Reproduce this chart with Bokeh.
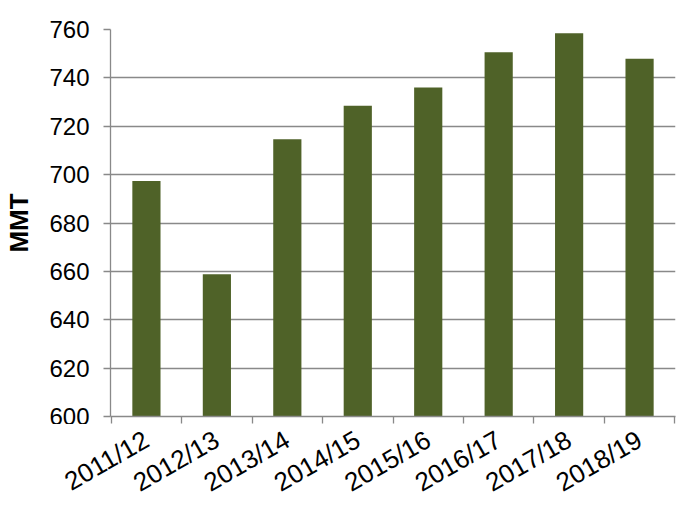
import math
from bokeh.plotting import figure
from bokeh.layouts import column
from bokeh.models import Range1d, FixedTicker
from bokeh.embed import file_html
from bokeh.resources import INLINE

categories = ["2011/12", "2012/13", "2013/14", "2014/15", "2015/16", "2016/17", "2017/18", "2018/19"]
values = [697.4, 658.8, 714.6, 728.5, 736.0, 750.6, 758.5, 747.9]
y_ticks = [600, 620, 640, 660, 680, 700, 720, 740, 760]

GRAY = "#898989"
BAR = "#4F6228"
FONT = "Liberation Sans"

W = 690
LEFT = 110
RIGHT = 15
n = len(categories)
centers = [i + 0.5 for i in range(n)]
bounds = [float(i) for i in range(n + 1)]

xr = Range1d(-0.01, n + 0.01)
p = figure(width=W, height=424, output_backend="svg", toolbar_location=None,
           x_range=xr, y_range=Range1d(600, 760),
           min_border_left=LEFT, min_border_right=RIGHT, min_border_top=29, min_border_bottom=8)
p.outline_line_color = None
p.background_fill_color = "white"

p.vbar(x=centers, top=values, bottom=600, width=0.4, fill_color=BAR, line_color=None)

p.xgrid.visible = False
p.ygrid.grid_line_color = GRAY
p.ygrid.grid_line_width = 1.3
p.ygrid.ticker = FixedTicker(ticks=y_ticks)

xa = p.xaxis[0]
xa.ticker = FixedTicker(ticks=bounds)
xa.major_label_overrides = {b: "" for b in bounds}
xa.major_label_text_font_size = "1px"
xa.major_label_standoff = 0
xa.major_tick_out = 7
xa.major_tick_in = 0
xa.minor_tick_out = 0
xa.minor_tick_in = 0
xa.major_tick_line_color = GRAY
xa.major_tick_line_width = 1.3
xa.axis_line_color = GRAY
xa.axis_line_width = 1.3

ya = p.yaxis[0]
ya.ticker = FixedTicker(ticks=y_ticks)
ya.major_tick_out = 7
ya.major_tick_in = 0
ya.minor_tick_out = 0
ya.minor_tick_in = 0
ya.major_tick_line_color = GRAY
ya.major_tick_line_width = 1.3
ya.axis_line_color = GRAY
ya.axis_line_width = 1.3
ya.major_label_text_font = FONT
ya.major_label_text_font_size = "24px"
ya.major_label_text_color = "black"
ya.major_label_standoff = 14
ya.axis_label = "MMT"
ya.axis_label_text_font = FONT
ya.axis_label_text_font_size = "26px"
ya.axis_label_text_font_style = "bold"
ya.axis_label_text_color = "black"
ya.axis_label_standoff = 12

# category labels: an axis-only strip sharing the same x range
p2 = figure(width=W, frame_height=1, output_backend="svg", toolbar_location=None,
            x_range=xr, y_range=Range1d(0, 1),
            min_border_left=LEFT, min_border_right=RIGHT, min_border_top=0, min_border_bottom=0)
p2.yaxis.visible = False
p2.grid.visible = False
p2.outline_line_color = None
xb = p2.xaxis[0]
xb.ticker = FixedTicker(ticks=centers)
xb.major_label_overrides = {c: lab for c, lab in zip(centers, categories)}
xb.major_tick_out = 0
xb.major_tick_in = 0
xb.minor_tick_out = 0
xb.minor_tick_in = 0
xb.axis_line_color = None
xb.major_label_orientation = math.radians(30)
xb.major_label_text_font = FONT
xb.major_label_text_font_size = "26px"
xb.major_label_text_color = "black"
xb.major_label_standoff = 12

layout = column(p, p2, spacing=0)
open("out.html", "w").write(file_html(layout, INLINE))
